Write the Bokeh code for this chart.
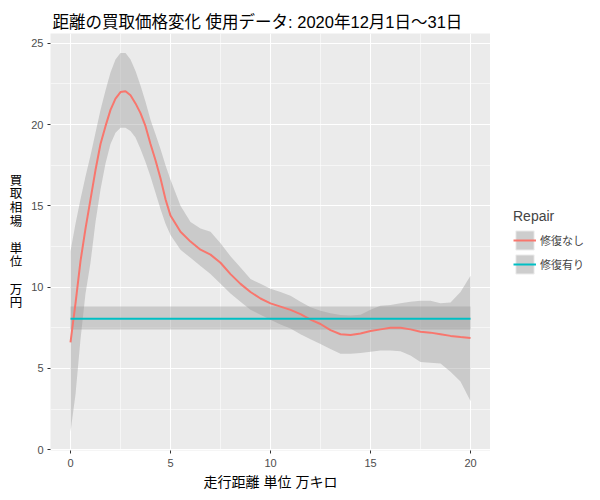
from bokeh.plotting import figure
from bokeh.layouts import row
from bokeh.models import Range1d, FixedTicker, Legend, LegendItem, ColumnDataSource
from bokeh.embed import file_html
from bokeh.resources import INLINE

FONT = "Liberation Sans, Noto Sans CJK JP"

# --- data ---
x_nashi = [0, 0.25, 0.5, 0.75, 1.0, 1.25, 1.5, 1.75, 2.0, 2.25, 2.5, 2.75, 3.0, 3.25, 3.5, 3.75,
           4.0, 4.25, 4.5, 4.75, 5.0, 5.5, 6.0, 6.5, 7.0, 7.5, 8.0, 8.5, 9.0, 9.5, 10.0, 10.5,
           11.0, 11.5, 12.0, 12.5, 13.0, 13.5, 14.0, 14.5, 15.0, 15.5, 16.0, 16.5, 17.0, 17.5,
           18.0, 18.5, 19.0, 19.5, 20.0]
y_nashi = [6.6, 9.0, 11.6, 13.6, 15.4, 17.2, 18.8, 19.9, 20.9, 21.6, 22.0, 22.05, 21.8, 21.3, 20.7, 19.9,
           18.8, 17.8, 16.7, 15.4, 14.4, 13.4, 12.8, 12.3, 12.0, 11.5, 10.8, 10.2, 9.7, 9.3, 9.0, 8.8,
           8.6, 8.34, 8.0, 7.73, 7.35, 7.1, 7.05, 7.15, 7.3, 7.4, 7.5, 7.5, 7.4, 7.26,
           7.2, 7.1, 7.0, 6.93, 6.87]
upper_nashi = [12.2, 13.9, 15.4, 16.8, 18.1, 19.5, 20.9, 22.1, 23.2, 24.0, 24.4, 24.4, 24.0, 23.3, 22.4, 21.4,
               20.3, 19.4, 18.5, 17.5, 16.6, 15.0, 14.0, 13.6, 13.4, 12.7, 11.9, 11.2, 10.5, 10.2, 9.9, 9.7,
               9.47, 9.1, 8.76, 8.55, 8.4, 8.28, 8.25, 8.3, 8.6, 8.85, 8.9, 9.0, 9.1, 9.16,
               9.16, 9.0, 9.05, 9.7, 10.7]
lower_nashi = [1.1, 3.4, 6.8, 9.6, 11.5, 14.0, 16.0, 17.6, 18.8, 19.5, 19.8, 19.8, 19.6, 19.2, 18.5, 17.7,
               16.8, 15.8, 14.8, 13.9, 13.2, 12.3, 11.8, 11.3, 10.8, 10.2, 9.6, 9.1, 8.6, 8.3, 8.0, 7.7,
               7.45, 7.1, 6.8, 6.5, 6.2, 5.9, 5.9, 5.95, 6.03, 6.1, 6.1, 6.05, 5.8, 5.4,
               5.35, 5.3, 4.8, 4.2, 3.0]

x_ari = [0, 20]
y_ari = [8.05, 8.05]
upper_ari = [8.8, 8.8]
lower_ari = [7.4, 7.4]

series_names = ["修復なし", "修復有り"]
series_colors = ["#F8766D", "#00BFC4"]

x_ticks = [0, 5, 10, 15, 20]
x_minor = [2.5, 7.5, 12.5, 17.5]
y_ticks = [0, 5, 10, 15, 20, 25]
y_minor = [2.5, 7.5, 12.5, 17.5, 22.5]

title_text = "距離の買取価格変化 使用データ: 2020年12月1日～31日"
x_title = "走行距離 単位 万キロ"
y_title = "買\n取\n相\n場\n\n単\n位\n\n万\n円"

TOTAL_H = 492

p = figure(width=490, height=TOTAL_H, output_backend="svg", toolbar_location=None,
           x_range=Range1d(-1, 21), y_range=Range1d(-0.05, 25.6))
p.background_fill_color = "#EBEBEB"
p.border_fill_color = "white"
p.outline_line_color = None
p.min_border_left = 50
p.min_border_top = 33
p.min_border_bottom = 41
p.min_border_right = 0

p.title.text = title_text
p.title.text_font = FONT
p.title.text_font_size = "16.5px"
p.title.text_font_style = "normal"
p.title.text_color = "black"
p.title.offset = 2
p.title.standoff = 6

for ax, ticks, minor in ((p.xaxis[0], x_ticks, x_minor), (p.yaxis[0], y_ticks, y_minor)):
    ax.ticker = FixedTicker(ticks=ticks, minor_ticks=minor)
    ax.axis_line_color = None
    ax.major_tick_line_color = "#333333"
    ax.major_tick_in = 0
    ax.major_tick_out = 3
    ax.minor_tick_line_color = None
    ax.major_label_text_font = FONT
    ax.major_label_text_font_size = "11px"
    ax.major_label_text_color = "#4D4D4D"
    ax.axis_label_text_font = FONT
    ax.axis_label_text_font_size = "14px"
    ax.axis_label_text_font_style = "normal"
    ax.axis_label_text_color = "black"

p.xaxis.axis_label = x_title
p.xaxis.major_label_standoff = 4
p.xaxis.axis_label_standoff = 4
p.yaxis.axis_label = y_title
p.yaxis.axis_label_orientation = "horizontal"
p.yaxis.axis_label_text_font_size = "12.5px"
p.yaxis.axis_label_text_line_height = 0.97
p.yaxis.major_label_standoff = 3
p.yaxis.axis_label_standoff = 6

for g in (p.xgrid[0], p.ygrid[0]):
    g.grid_line_color = "white"
    g.grid_line_width = 1.1
    g.minor_grid_line_color = "white"
    g.minor_grid_line_width = 0.55

# ribbons and smooth lines
src_n = ColumnDataSource(dict(x=x_nashi, y=y_nashi, lo=lower_nashi, hi=upper_nashi))
src_a = ColumnDataSource(dict(x=x_ari, y=y_ari, lo=lower_ari, hi=upper_ari))
p.varea(x="x", y1="lo", y2="hi", source=src_n, fill_color="#999999", fill_alpha=0.4)
p.varea(x="x", y1="lo", y2="hi", source=src_a, fill_color="#999999", fill_alpha=0.4)
p.line(x="x", y="y", source=src_n, line_color=series_colors[0], line_width=2)
p.line(x="x", y="y", source=src_a, line_color=series_colors[1], line_width=2)

# separate legend panel on the right (key glyphs sit outside its visible range)
lg = figure(width=94, height=TOTAL_H, output_backend="svg", toolbar_location=None,
            x_range=Range1d(0, 1), y_range=Range1d(0, 1))
lg.axis.visible = False
lg.grid.visible = False
lg.outline_line_color = None
lg.background_fill_color = "white"
lg.min_border_left = 0
lg.min_border_right = 0
lg.min_border_top = 0
lg.min_border_bottom = 0

key_bg = lg.quad(left=[2], right=[3], top=[3], bottom=[2], fill_color="#CDCDCD", line_color="#F2F2F2",
                 line_width=1)
kn = lg.line(x=[2, 3], y=[2, 2], line_color=series_colors[0], line_width=2)
ka = lg.line(x=[2, 3], y=[2, 2], line_color=series_colors[1], line_width=2)

legend = Legend(items=[LegendItem(label=series_names[0], renderers=[key_bg, kn]),
                       LegendItem(label=series_names[1], renderers=[key_bg, ka])],
                title="Repair")
legend.title_text_font = FONT
legend.title_text_font_size = "14px"
legend.title_text_font_style = "normal"
legend.title_standoff = 4
legend.label_text_font = FONT
legend.label_text_font_size = "11px"
legend.glyph_width = 23
legend.glyph_height = 24
legend.spacing = 0
legend.padding = 8
legend.margin = 0
legend.label_standoff = 4
legend.border_line_color = None
legend.background_fill_alpha = 0
legend.location = (23, 174)
lg.add_layout(legend, "center")

layout = row(p, lg)
open("out.html", "w").write(file_html(layout, INLINE))
